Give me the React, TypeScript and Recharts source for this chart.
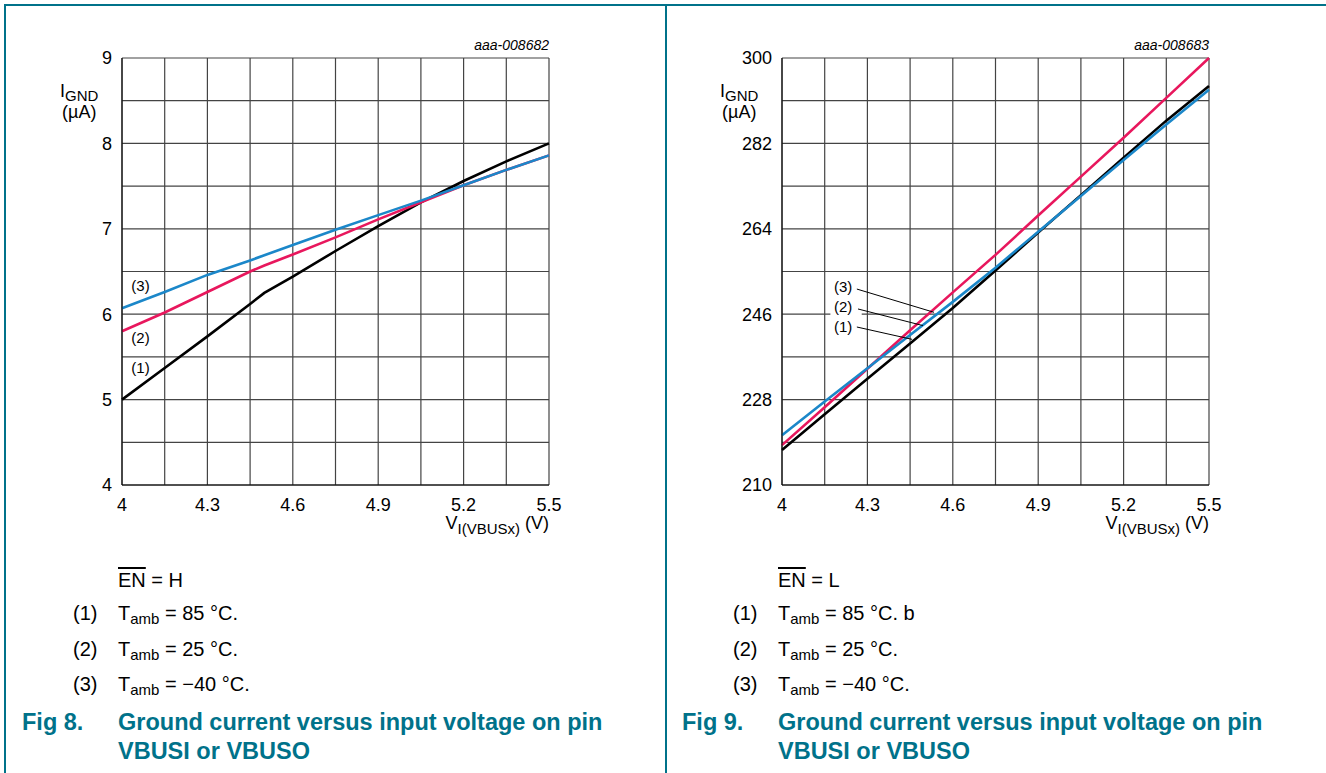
import React from "react";
import { LineChart, Line, XAxis, YAxis, CartesianGrid, ReferenceDot, ReferenceLine, ReferenceArea } from "recharts";

// shared x axis (V_I(VBUSx) in volts)
const xTicks = [4, 4.15, 4.3, 4.45, 4.6, 4.75, 4.9, 5.05, 5.2, 5.35, 5.5];
const xTickLabels = ["4", "", "4.3", "", "4.6", "", "4.9", "", "5.2", "", "5.5"];

// Fig 8: EN = H
const leftV = [4, 4.15, 4.3, 4.45, 4.5, 4.6, 4.75, 4.9, 5.05, 5.2, 5.35, 5.5];
const left85 = [5.0, 5.37, 5.74, 6.12, 6.25, 6.44, 6.74, 7.03, 7.31, 7.56, 7.79, 8.0];
const left25 = [5.8, 6.02, 6.26, 6.5, 6.57, 6.7, 6.9, 7.11, 7.31, 7.51, 7.69, 7.86];
const leftMinus40 = [6.07, 6.26, 6.46, 6.63, 6.69, 6.81, 6.99, 7.16, 7.33, 7.51, 7.69, 7.86];
const leftYTicks = [4, 4.5, 5, 5.5, 6, 6.5, 7, 7.5, 8, 8.5, 9];
const leftYLabels = ["4", "", "5", "", "6", "", "7", "", "8", "", "9"];

// Fig 9: EN = L
const rightV = [4, 4.15, 4.3, 4.45, 4.6, 4.75, 4.9, 5.05, 5.2, 5.35, 5.5];
const right85 = [217.4, 224.9, 232.4, 239.8, 247.3, 255.2, 263.2, 271.1, 279.0, 286.8, 294.1];
const right25 = [218.4, 226.4, 234.5, 242.6, 250.6, 258.5, 266.8, 275.0, 283.2, 291.6, 300.0];
const rightMinus40 = [220.5, 227.6, 234.6, 241.6, 248.6, 255.8, 263.4, 270.9, 278.5, 286.0, 293.3];
const rightYTicks = [210, 219, 228, 237, 246, 255, 264, 273, 282, 291, 300];
const rightYLabels = ["210", "", "228", "", "246", "", "264", "", "282", "", "300"];

const leftData = leftV.map((v, i) => ({ v, s1: left85[i], s2: left25[i], s3: leftMinus40[i] }));
const rightData = rightV.map((v, i) => ({ v, s1: right85[i], s2: right25[i], s3: rightMinus40[i] }));

const FONT = "'Liberation Sans', Arial, Helvetica, sans-serif";
const TEAL = "#00728a";
const RED = "#e8175d";
const BLUE = "#1b87c9";
const GRID = "#444";

const tickStyle = { fontSize: 18, fill: "#000", fontFamily: FONT };
const annStyle = { fontSize: 15, fill: "#000", fontFamily: FONT };

function abs(left: number, top: number, extra: React.CSSProperties = {}): React.CSSProperties {
    return { position: "absolute", left, top, fontFamily: FONT, color: "#000", whiteSpace: "nowrap", lineHeight: 1, ...extra };
}

const subStyle: React.CSSProperties = { fontSize: 15, verticalAlign: "-4px", lineHeight: 1 };

function Notes({ x, en, t85 }: { x: number; en: string; t85: string }) {
    const rows = [
        ["(1)", t85],
        ["(2)", "= 25 \u00b0C."],
        ["(3)", "= \u221240 \u00b0C."],
    ];
    return (
        <>
            <div style={abs(x + 118, 570, { fontSize: 20 })}>
                <span style={{ textDecoration: "overline" }}>EN</span> = {en}
            </div>
            {rows.map((r, i) => (
                <React.Fragment key={i}>
                    <div style={abs(x + 73, 603 + i * 35.5, { fontSize: 20 })}>{r[0]}</div>
                    <div style={abs(x + 118, 603 + i * 35.5, { fontSize: 20 })}>
                        T<sub style={subStyle}>amb</sub> {r[1]}
                    </div>
                </React.Fragment>
            ))}
        </>
    );
}

function Caption({ x, num }: { x: number; num: string }) {
    const st = { fontSize: 23.5, fontWeight: 700, color: TEAL };
    return (
        <>
            <div style={abs(x + 22, 711, st)}>Fig {num}.</div>
            <div style={abs(x + 118, 711, st)}>Ground current versus input voltage on pin</div>
            <div style={abs(x + 118, 740, st)}>VBUSI or VBUSO</div>
        </>
    );
}

function AxisTitles({ x, id }: { x: number; id: string }) {
    return (
        <>
            <div style={abs(x + 430, 38, { fontSize: 14, fontStyle: "italic", width: 119, textAlign: "right" })}>{id}</div>
            <div style={abs(x + 60, 82, { fontSize: 18 })}>
                I<sub style={subStyle}>GND</sub>
            </div>
            <div style={abs(x + 62, 103, { fontSize: 18 })}>({"\u00b5"}A)</div>
            <div style={abs(x + 400, 514, { fontSize: 18, width: 149, textAlign: "right" })}>
                V<sub style={{ fontSize: 15, verticalAlign: "-5px", lineHeight: 1 }}>I(VBUSx)</sub> (V)
            </div>
        </>
    );
}

export default function App() {
    const chartProps = {
        width: 600,
        height: 540,
        margin: { top: 58, right: 51, left: 62, bottom: 25 },
    };
    const lineCommon = { type: "linear" as const, dot: false, strokeWidth: 2.6, isAnimationActive: false };

    return (
        <div style={{ position: "absolute", left: 0, top: 0, width: 1326, height: 773, background: "#fff", overflow: "hidden" }}>
            {/* frame */}
            <div style={{ position: "absolute", left: 4, top: 4, width: 1322, height: 1.5, background: TEAL }} />
            <div style={{ position: "absolute", left: 4, top: 4, width: 1.5, height: 769, background: TEAL }} />
            <div style={{ position: "absolute", left: 665, top: 4, width: 1.5, height: 769, background: TEAL }} />

            {/* Fig 8 */}
            <div style={{ position: "absolute", left: 0, top: 0 }}>
                <LineChart data={leftData} {...chartProps}>
                    <CartesianGrid stroke={GRID} strokeWidth={1.2} />
                    <XAxis dataKey="v" type="number" domain={[4, 5.5]} ticks={xTicks} interval={0}
                        tickFormatter={(_v, i) => xTickLabels[i]} tick={tickStyle} tickLine={false}
                        tickSize={6} tickMargin={7} height={30} axisLine={{ stroke: "#000" }} />
                    <YAxis type="number" domain={[4, 9]} ticks={leftYTicks} interval={0}
                        tickFormatter={(_v, i) => leftYLabels[i]} tick={tickStyle} tickLine={false}
                        tickSize={6} tickMargin={4} width={60} axisLine={{ stroke: "#000" }} />
                    <Line dataKey="s1" stroke="#000" {...lineCommon} />
                    <Line dataKey="s2" stroke={RED} {...lineCommon} />
                    <Line dataKey="s3" stroke={BLUE} {...lineCommon} />
                    <ReferenceDot x={4.065} y={6.33} r={0} fill="none" stroke="none" label={{ value: "(3)", position: "center", style: annStyle }} />
                    <ReferenceDot x={4.065} y={5.72} r={0} fill="none" stroke="none" label={{ value: "(2)", position: "center", style: annStyle }} />
                    <ReferenceDot x={4.065} y={5.37} r={0} fill="none" stroke="none" label={{ value: "(1)", position: "center", style: annStyle }} />
                </LineChart>
            </div>
            <AxisTitles x={0} id="aaa-008682" />
            <Notes x={0} en="H" t85={"= 85 \u00b0C."} />
            <Caption x={0} num="8" />

            {/* Fig 9 */}
            <div style={{ position: "absolute", left: 660, top: 0 }}>
                <LineChart data={rightData} {...chartProps}>
                    <CartesianGrid stroke={GRID} strokeWidth={1.2} />
                    <XAxis dataKey="v" type="number" domain={[4, 5.5]} ticks={xTicks} interval={0}
                        tickFormatter={(_v, i) => xTickLabels[i]} tick={tickStyle} tickLine={false}
                        tickSize={6} tickMargin={7} height={30} axisLine={{ stroke: "#000" }} />
                    <YAxis type="number" domain={[210, 300]} ticks={rightYTicks} interval={0}
                        tickFormatter={(_v, i) => rightYLabels[i]} tick={tickStyle} tickLine={false}
                        tickSize={6} tickMargin={4} width={60} axisLine={{ stroke: "#000" }} />
                    <ReferenceArea x1={4.17} x2={4.28} y1={241.8} y2={253.6} fill="#fff" fillOpacity={1} stroke="none" />
                    <Line dataKey="s1" stroke="#000" {...lineCommon} />
                    <Line dataKey="s2" stroke={RED} {...lineCommon} />
                    <Line dataKey="s3" stroke={BLUE} {...lineCommon} />
                    <ReferenceLine segment={[{ x: 4.263, y: 251.3 }, { x: 4.534, y: 246.4 }]} stroke="#000" strokeWidth={1} />
                    <ReferenceLine segment={[{ x: 4.267, y: 247.1 }, { x: 4.495, y: 243.6 }]} stroke="#000" strokeWidth={1} />
                    <ReferenceLine segment={[{ x: 4.263, y: 243.3 }, { x: 4.457, y: 240.7 }]} stroke="#000" strokeWidth={1} />
                    <ReferenceDot x={4.215} y={251.7} r={0} fill="none" stroke="none" label={{ value: "(3)", position: "center", style: annStyle }} />
                    <ReferenceDot x={4.215} y={247.5} r={0} fill="none" stroke="none" label={{ value: "(2)", position: "center", style: annStyle }} />
                    <ReferenceDot x={4.215} y={243.3} r={0} fill="none" stroke="none" label={{ value: "(1)", position: "center", style: annStyle }} />
                </LineChart>
            </div>
            <AxisTitles x={660} id="aaa-008683" />
            <Notes x={660} en="L" t85={"= 85 \u00b0C. b"} />
            <Caption x={660} num="9" />
        </div>
    );
}
